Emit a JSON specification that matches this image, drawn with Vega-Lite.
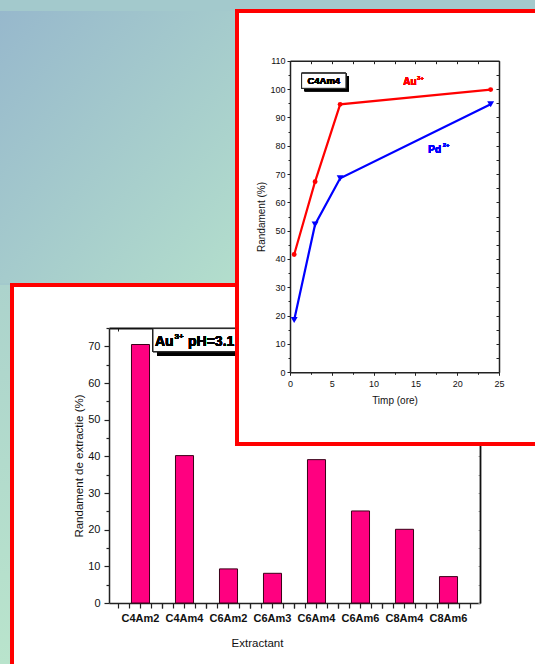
{
  "$schema": "https://vega.github.io/schema/vega-lite/v6.json",
  "autosize": {"type": "none"},
  "padding": {"left": 0, "top": 285, "right": 535, "bottom": 379},
  "background": "#a3c9cc",
  "columns": 1,
  "align": "none",
  "bounds": "flush",
  "spacing": -274,
  "config": {
    "view": {"stroke": null},
    "font": "Liberation Sans",
    "axis": {"grid": false, "labelFont": "Liberation Sans", "titleFont": "Liberation Sans", "labelColor": "#111", "titleColor": "#111", "domainColor": "#222", "tickColor": "#222", "titleFontWeight": "normal", "labelFlush": false, "labelOverlap": false}
  },
  "concat": [
    {
      "hconcat": [
        {
          "width": 12, "height": 379,
          "view": {"fill": {"gradient": "linear", "x1": 0, "y1": 0, "x2": 0, "y2": 1, "stops": [{"offset": 0, "color": "#acd3cc"}, {"offset": 1, "color": "#b9e4cc"}]}, "stroke": null},
          "data": {"values": [{}]},
          "mark": {"type": "point", "opacity": 0}
        },
        {
          "width": 530, "height": 400,
          "view": {"fill": "white", "stroke": "#ff0000", "strokeWidth": 4},
          "data": {"values": [
            {"Extractant": "C4Am2", "value": 70.5},
            {"Extractant": "C4Am4", "value": 40.2},
            {"Extractant": "C6Am2", "value": 9.3},
            {"Extractant": "C6Am3", "value": 8.1},
            {"Extractant": "C6Am4", "value": 39.1},
            {"Extractant": "C6Am6", "value": 25.1},
            {"Extractant": "C8Am4", "value": 20.1},
            {"Extractant": "C8Am6", "value": 7.2}
          ]},
          "resolve": {"axis": {"x": "independent", "y": "independent"}},
          "layer": [
            {
              "mark": {"type": "bar", "fill": "#ff0080", "stroke": "#3a0018", "strokeWidth": 1},
              "encoding": {
                "x": {"field": "Extractant", "type": "nominal", "sort": null,
                  "scale": {"type": "band", "range": [97, 468], "paddingInner": 0.59, "paddingOuter": 0.511},
                  "axis": {"orient": "bottom", "offset": -82, "title": "Extractant", "titleFontSize": 11.5, "titleX": 245, "titlePadding": 14, "labelFontSize": 11, "labelFontWeight": "bold", "labelAngle": 0, "tickSize": 5, "labelPadding": 4, "domainWidth": 1.5, "tickWidth": 1.2}},
                "y": {"field": "value", "type": "quantitative",
                  "scale": {"domain": [0, 75], "range": [318, 43], "nice": false},
                  "axis": {"orient": "left", "offset": -97, "values": [0, 10, 20, 30, 40, 50, 60, 70], "title": "Randament de extractie (%)", "titleFontSize": 11.5, "titlePadding": 3, "labelFontSize": 11, "tickSize": 5, "labelPadding": 4, "domainWidth": 1.5, "tickWidth": 1.2}}
              }
            },
            {
              "mark": {"type": "bar", "opacity": 0},
              "encoding": {
                "x": {"field": "Extractant", "type": "nominal", "sort": null, "axis": {"orient": "bottom", "offset": -82, "bandPosition": -0.72, "labels": false, "domain": false, "title": null, "tickSize": 5, "tickWidth": 1.2}},
                "y": {"field": "value", "type": "quantitative", "axis": {"orient": "left", "offset": -97, "values": [5, 15, 25, 35, 45, 55, 65, 75], "labels": false, "domain": false, "title": null, "tickSize": 3, "tickWidth": 1.2}}
              }
            },
            {
              "mark": {"type": "bar", "opacity": 0},
              "encoding": {
                "x": {"field": "Extractant", "type": "nominal", "sort": null, "axis": {"orient": "bottom", "offset": -82, "bandPosition": -0.11, "labels": false, "domain": false, "title": null, "tickSize": 5, "tickWidth": 1.2}},
                "y": {"field": "value", "type": "quantitative", "axis": {"orient": "right", "offset": -62, "values": [0, 5, 10, 15, 20, 25, 30, 35, 40, 45, 50, 55, 60, 65, 70, 75], "labels": false, "title": null, "tickSize": -2, "tickColor": "#aaa", "domainColor": "#111", "domainWidth": 1.8}}
              }
            },
            {
              "mark": {"type": "bar", "opacity": 0},
              "encoding": {
                "x": {"field": "Extractant", "type": "nominal", "sort": null, "axis": {"orient": "bottom", "offset": -82, "bandPosition": 1.11, "labels": false, "domain": false, "title": null, "tickSize": 5, "tickWidth": 1.2}},
                "y": {"field": "value", "type": "quantitative", "axis": null}
              }
            },
            {
              "mark": {"type": "bar", "opacity": 0},
              "encoding": {
                "x": {"field": "Extractant", "type": "nominal", "sort": null, "axis": {"orient": "bottom", "offset": -82, "bandPosition": 1.72, "labels": false, "domain": false, "title": null, "tickSize": 5, "tickWidth": 1.2}},
                "y": {"field": "value", "type": "quantitative", "axis": null}
              }
            },
            {
              "mark": {"type": "bar", "opacity": 0},
              "encoding": {
                "x": {"field": "Extractant", "type": "nominal", "sort": null, "axis": {"orient": "top", "offset": -43, "bandPosition": -0.72, "labels": false, "title": null, "tickSize": -3, "domainColor": "#111", "domainWidth": 1.8}},
                "y": {"field": "value", "type": "quantitative", "axis": null}
              }
            },
            {
              "mark": {"type": "point", "shape": "M-1,-0.23H1V0.23H-1Z", "size": 10000, "filled": true, "fill": "#000", "opacity": 1, "xOffset": 22.5, "yOffset": 4.5},
              "encoding": {
                "x": {"datum": "C4Am4", "axis": null},
                "y": {"datum": 71.7, "axis": null}
              }
            },
            {
              "mark": {"type": "point", "shape": "M-1,-0.23H1V0.23H-1Z", "size": 10000, "filled": true, "fill": "#fff", "stroke": "#222", "strokeWidth": 1, "opacity": 1, "xOffset": 18.5},
              "encoding": {
                "x": {"datum": "C4Am4", "axis": null},
                "y": {"datum": 71.7, "axis": null}
              }
            },
            {
              "mark": {"type": "text", "text": "Au", "align": "left", "baseline": "alphabetic", "dx": -29.5, "fontSize": 14, "fontWeight": "bold", "color": "#000"},
              "encoding": {
                "x": {"datum": "C4Am4", "axis": null},
                "y": {"datum": 70.2, "axis": null}
              }
            },
            {
              "mark": {"type": "text", "text": "3+", "align": "left", "baseline": "alphabetic", "dx": -10, "fontSize": 8, "fontWeight": "bold", "color": "#000"},
              "encoding": {
                "x": {"datum": "C4Am4", "axis": null},
                "y": {"datum": 72.1, "axis": null}
              }
            },
            {
              "mark": {"type": "text", "text": "pH=3.1", "align": "left", "baseline": "alphabetic", "dx": 3.5, "fontSize": 14, "fontWeight": "bold", "color": "#000"},
              "encoding": {
                "x": {"datum": "C4Am4", "axis": null},
                "y": {"datum": 70.2, "axis": null}
              }
            }
          ]
        }
      ],
      "spacing": 0,
      "bounds": "flush"
    },
    {
      "hconcat": [
        {
          "width": 237, "height": 272,
          "view": {"fill": {"gradient": "linear", "x1": 0, "y1": 0, "x2": 1, "y2": 1, "stops": [{"offset": 0, "color": "#97b8cc"}, {"offset": 1, "color": "#b3decc"}]}, "stroke": null},
          "data": {"values": [{}]},
          "mark": {"type": "point", "opacity": 0}
        },
        {
          "width": 305, "height": 433,
          "view": {"fill": "white", "stroke": "#ff0000", "strokeWidth": 4},
          "data": {"values": [
            {"ion": "Au", "t": 0.5, "y": 41.6},
            {"ion": "Au", "t": 3, "y": 67.3},
            {"ion": "Au", "t": 6, "y": 94.6},
            {"ion": "Au", "t": 24, "y": 99.8},
            {"ion": "Pd", "t": 0.5, "y": 18.5},
            {"ion": "Pd", "t": 3, "y": 52.2},
            {"ion": "Pd", "t": 6, "y": 68.5},
            {"ion": "Pd", "t": 24, "y": 94.6}
          ]},
          "resolve": {"axis": {"x": "independent", "y": "independent"}},
          "layer": [
            {
              "mark": {"type": "line", "strokeWidth": 2.2},
              "encoding": {
                "x": {"field": "t", "type": "quantitative",
                  "scale": {"domain": [0, 25], "range": [53, 262], "nice": false, "zero": false},
                  "axis": {"orient": "bottom", "offset": -71.7, "values": [0, 5, 10, 15, 20, 25], "title": "Timp (ore)", "titleFontSize": 10, "titlePadding": 7, "labelFontSize": 9, "tickSize": 3, "labelPadding": 4, "domainWidth": 1.5}},
                "y": {"field": "y", "type": "quantitative",
                  "scale": {"domain": [0, 110], "range": [361.3, 49.7], "nice": false, "zero": false},
                  "axis": {"orient": "left", "offset": -53, "values": [0, 10, 20, 30, 40, 50, 60, 70, 80, 90, 100, 110], "title": "Randament (%)", "titleFontSize": 10, "titlePadding": 3, "labelFontSize": 9, "tickSize": 3, "labelPadding": 2, "domainWidth": 1.5}},
                "color": {"field": "ion", "type": "nominal", "scale": {"domain": ["Au", "Pd"], "range": ["#ff0000", "#0000ff"]}, "legend": null}
              }
            },
            {
              "mark": {"type": "point", "filled": true, "opacity": 1},
              "encoding": {
                "x": {"field": "t", "type": "quantitative", "axis": {"orient": "bottom", "offset": -71.7, "values": [2.5, 7.5, 12.5, 17.5, 22.5], "labels": false, "domain": false, "title": null, "tickSize": 2}},
                "y": {"field": "y", "type": "quantitative", "axis": {"orient": "left", "offset": -53, "values": [5, 15, 25, 35, 45, 55, 65, 75, 85, 95, 105], "labels": false, "domain": false, "title": null, "tickSize": 2}},
                "color": {"field": "ion", "type": "nominal", "legend": null},
                "shape": {"field": "ion", "type": "nominal", "scale": {"domain": ["Au", "Pd"], "range": ["circle", "triangle-down"]}, "legend": null},
                "size": {"field": "ion", "type": "ordinal", "scale": {"domain": ["Au", "Pd"], "range": [24, 48]}, "legend": null}
              }
            },
            {
              "mark": {"type": "text", "text": "Au", "align": "left", "baseline": "alphabetic", "fontSize": 10, "fontWeight": "bold", "color": "#ff0000"},
              "encoding": {
                "x": {"datum": 13.55, "type": "quantitative", "axis": {"orient": "top", "offset": -49.7, "values": [0, 2.5, 5, 7.5, 10, 12.5, 15, 17.5, 20, 22.5, 25], "labels": false, "title": null, "tickSize": -3, "domainWidth": 1.5}},
                "y": {"datum": 101.4, "type": "quantitative", "axis": {"orient": "right", "offset": -43, "values": [0, 5, 10, 15, 20, 25, 30, 35, 40, 45, 50, 55, 60, 65, 70, 75, 80, 85, 90, 95, 100, 105, 110], "labels": false, "title": null, "tickSize": -3, "domainWidth": 1.5}}
              }
            },
            {
              "mark": {"type": "text", "text": "3+", "align": "left", "baseline": "alphabetic", "fontSize": 6, "fontWeight": "bold", "color": "#ff0000"},
              "encoding": {
                "x": {"datum": 15.2, "type": "quantitative", "axis": null},
                "y": {"datum": 103.2, "type": "quantitative", "axis": null}
              }
            },
            {
              "mark": {"type": "text", "text": "Pd", "align": "left", "baseline": "alphabetic", "fontSize": 10, "fontWeight": "bold", "color": "#0000ff"},
              "encoding": {
                "x": {"datum": 16.54, "type": "quantitative", "axis": null},
                "y": {"datum": 77.5, "type": "quantitative", "axis": null}
              }
            },
            {
              "mark": {"type": "text", "text": "2+", "align": "left", "baseline": "alphabetic", "fontSize": 6, "fontWeight": "bold", "color": "#0000ff"},
              "encoding": {
                "x": {"datum": 18.27, "type": "quantitative", "axis": null},
                "y": {"datum": 79.5, "type": "quantitative", "axis": null}
              }
            },
            {
              "mark": {"type": "point", "shape": "M-1,-0.339H1V0.339H-1Z", "size": 1962, "filled": true, "fill": "#000", "opacity": 1, "xOffset": 3, "yOffset": 3},
              "encoding": {
                "x": {"datum": 4.04, "type": "quantitative", "axis": null},
                "y": {"datum": 102.9, "type": "quantitative", "axis": null}
              }
            },
            {
              "mark": {"type": "point", "shape": "M-1,-0.339H1V0.339H-1Z", "size": 1962, "filled": true, "fill": "#fff", "stroke": "#222", "strokeWidth": 1, "opacity": 1},
              "encoding": {
                "x": {"datum": 4.04, "type": "quantitative", "axis": null},
                "y": {"datum": 102.9, "type": "quantitative", "axis": null}
              }
            },
            {
              "mark": {"type": "text", "text": "C4Am4", "align": "center", "baseline": "middle", "fontSize": 9.5, "fontWeight": "bold", "color": "#000"},
              "encoding": {
                "x": {"datum": 4.04, "type": "quantitative", "axis": null},
                "y": {"datum": 102.9, "type": "quantitative", "axis": null}
              }
            }
          ]
        }
      ],
      "spacing": 0,
      "bounds": "flush"
    }
  ]
}
